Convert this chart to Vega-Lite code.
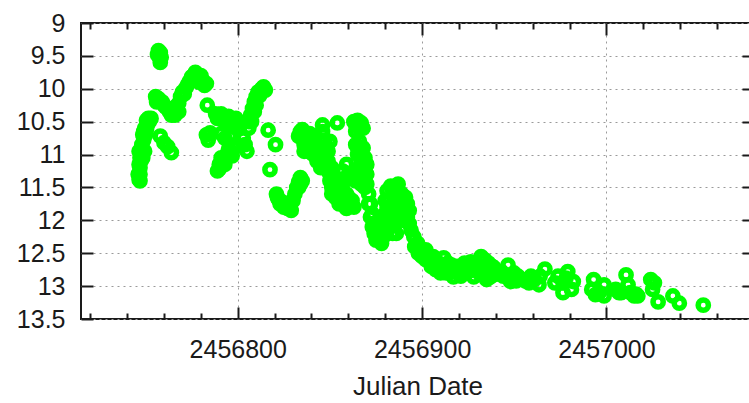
{
"$schema": "https://vega.github.io/schema/vega-lite/v6.json",
"width": 673, "height": 296,
"autosize": "none",
"padding": {"left": 81, "top": 23, "right": 0, "bottom": 84},
"background": "white",
"config": {
 "view": {"stroke": "#1a1a1a", "strokeWidth": 2},
 "axis": {"labelFont": "Liberation Sans", "titleFont": "Liberation Sans", "labelFontSize": 25, "titleFontSize": 26, "labelColor": "#1a1a1a", "titleColor": "#1a1a1a", "titleFontWeight": "normal", "gridColor": "#9a9a9a", "gridDash": [2, 4], "gridWidth": 1, "tickColor": "#1a1a1a", "tickWidth": 2, "domain": false}
},
"data": {"values": [
{"jd":2456746.5,"mag":11.38},{"jd":2456747,"mag":11.3},{"jd":2456747,"mag":11.2},{"jd":2456747.5,"mag":11.1},{"jd":2456747.5,"mag":11.0},{"jd":2456748,"mag":10.92},{"jd":2456748,"mag":10.85},{"jd":2456748.5,"mag":11.05},{"jd":2456749,"mag":10.78},{"jd":2456749.5,"mag":10.95},{"jd":2456750,"mag":10.7},{"jd":2456750.5,"mag":10.62},{"jd":2456751,"mag":10.55},{"jd":2456752,"mag":10.5},{"jd":2456753,"mag":10.45},
{"jd":2456746,"mag":11.3},{"jd":2456746.5,"mag":11.15},{"jd":2456747,"mag":11.05},{"jd":2456748.5,"mag":10.7},{"jd":2456749,"mag":10.65},{"jd":2456749.5,"mag":10.6},{"jd":2456750.5,"mag":10.48},{"jd":2456751.5,"mag":10.45},{"jd":2456746.5,"mag":10.95},{"jd":2456747,"mag":11.4},
{"jd":2456757,"mag":9.42},{"jd":2456758,"mag":9.45},{"jd":2456757.5,"mag":9.52},{"jd":2456758,"mag":9.6},{"jd":2456756.5,"mag":9.48},{"jd":2456758.5,"mag":9.52},
{"jd":2456755.5,"mag":10.12},{"jd":2456757,"mag":10.15},{"jd":2456759,"mag":10.2},{"jd":2456761,"mag":10.28},{"jd":2456763,"mag":10.35},{"jd":2456765,"mag":10.38},{"jd":2456767,"mag":10.33},
{"jd":2456756,"mag":10.2},{"jd":2456760,"mag":10.25},{"jd":2456762,"mag":10.3},{"jd":2456764,"mag":10.4},{"jd":2456766,"mag":10.4},{"jd":2456766,"mag":10.28},{"jd":2456768,"mag":10.35},
{"jd":2456758,"mag":10.72},{"jd":2456760,"mag":10.82},{"jd":2456762,"mag":10.88},{"jd":2456764,"mag":10.97},
{"jd":2456768,"mag":10.22},{"jd":2456769,"mag":10.12},{"jd":2456770,"mag":10.05},{"jd":2456771,"mag":10.08},{"jd":2456772,"mag":9.98},
{"jd":2456774,"mag":9.88},{"jd":2456776,"mag":9.8},{"jd":2456778,"mag":9.78},{"jd":2456779,"mag":9.85},{"jd":2456781,"mag":9.87},{"jd":2456783,"mag":9.92},
{"jd":2456775,"mag":9.82},{"jd":2456777,"mag":9.75},{"jd":2456780,"mag":9.8},{"jd":2456782,"mag":9.95},{"jd":2456773,"mag":9.93},{"jd":2456779,"mag":9.9},
{"jd":2456783.5,"mag":10.25},
{"jd":2456788,"mag":10.38},{"jd":2456790,"mag":10.45},{"jd":2456792,"mag":10.42},{"jd":2456794,"mag":10.5},{"jd":2456796,"mag":10.48},{"jd":2456798,"mag":10.55},{"jd":2456800,"mag":10.5},
{"jd":2456789,"mag":10.45},{"jd":2456791,"mag":10.38},{"jd":2456793,"mag":10.5},{"jd":2456795,"mag":10.42},{"jd":2456797,"mag":10.58},{"jd":2456799,"mag":10.45},{"jd":2456801,"mag":10.58},
{"jd":2456783,"mag":10.7},{"jd":2456785,"mag":10.67},{"jd":2456784,"mag":10.78},
{"jd":2456791,"mag":10.68},{"jd":2456793,"mag":10.75},{"jd":2456796,"mag":10.72},
{"jd":2456789,"mag":11.25},{"jd":2456790,"mag":11.15},{"jd":2456792,"mag":11.08},{"jd":2456794,"mag":11.0},{"jd":2456796,"mag":10.95},{"jd":2456798,"mag":10.9},
{"jd":2456790,"mag":11.22},{"jd":2456791,"mag":11.05},{"jd":2456793,"mag":11.15},{"jd":2456795,"mag":10.92},{"jd":2456797,"mag":11.02},{"jd":2456799,"mag":10.85},
{"jd":2456803,"mag":10.75},{"jd":2456804,"mag":10.85},{"jd":2456805,"mag":10.95},
{"jd":2456806,"mag":10.5},{"jd":2456807,"mag":10.4},{"jd":2456808,"mag":10.3},{"jd":2456809,"mag":10.2},{"jd":2456810,"mag":10.12},{"jd":2456811,"mag":10.05},{"jd":2456813,"mag":10.0},{"jd":2456815,"mag":10.02},
{"jd":2456806,"mag":10.6},{"jd":2456807.5,"mag":10.5},{"jd":2456809,"mag":10.35},{"jd":2456810,"mag":10.25},{"jd":2456812,"mag":10.1},{"jd":2456814,"mag":9.97},
{"jd":2456816.5,"mag":10.63},{"jd":2456820.5,"mag":10.85},{"jd":2456817.5,"mag":11.23},
{"jd":2456821,"mag":11.6},{"jd":2456822,"mag":11.68},{"jd":2456824,"mag":11.72},{"jd":2456826,"mag":11.78},{"jd":2456828,"mag":11.8},{"jd":2456829,"mag":11.72},{"jd":2456831,"mag":11.6},{"jd":2456832,"mag":11.5},{"jd":2456833,"mag":11.42},{"jd":2456834,"mag":11.35},
{"jd":2456821.5,"mag":11.65},{"jd":2456823,"mag":11.75},{"jd":2456825,"mag":11.8},{"jd":2456827,"mag":11.82},{"jd":2456829,"mag":11.85},{"jd":2456830,"mag":11.7},{"jd":2456833,"mag":11.5},{"jd":2456834,"mag":11.45},{"jd":2456835,"mag":11.4},
{"jd":2456834,"mag":10.65},{"jd":2456835,"mag":10.75},{"jd":2456836,"mag":10.85},{"jd":2456837,"mag":10.7},{"jd":2456838,"mag":10.95},{"jd":2456840,"mag":10.8},{"jd":2456841,"mag":11.0},{"jd":2456842,"mag":10.72},{"jd":2456843,"mag":11.1},{"jd":2456844,"mag":10.9},{"jd":2456845,"mag":11.2},{"jd":2456846,"mag":10.65},{"jd":2456847,"mag":10.78},{"jd":2456848,"mag":11.05},{"jd":2456849,"mag":11.25},{"jd":2456850,"mag":11.3},{"jd":2456850,"mag":10.8},
{"jd":2456833,"mag":10.72},{"jd":2456835,"mag":10.62},{"jd":2456836,"mag":10.95},{"jd":2456837,"mag":10.82},{"jd":2456839,"mag":10.9},{"jd":2456839,"mag":10.68},{"jd":2456841,"mag":10.75},{"jd":2456842,"mag":10.95},{"jd":2456843,"mag":10.85},{"jd":2456844,"mag":11.05},{"jd":2456845,"mag":10.98},{"jd":2456846,"mag":11.12},{"jd":2456847,"mag":11.2},{"jd":2456848,"mag":10.88},{"jd":2456849,"mag":10.95},{"jd":2456846,"mag":10.55},{"jd":2456851,"mag":11.2},
{"jd":2456854,"mag":10.52},
{"jd":2456849,"mag":11.1},{"jd":2456850,"mag":11.4},{"jd":2456851,"mag":11.5},{"jd":2456852,"mag":11.55},{"jd":2456853,"mag":11.35},{"jd":2456855,"mag":11.6},{"jd":2456856,"mag":11.45},{"jd":2456857,"mag":11.7},{"jd":2456858,"mag":11.75},{"jd":2456859,"mag":11.82},{"jd":2456860,"mag":11.65},{"jd":2456857,"mag":11.25},{"jd":2456859,"mag":11.15},{"jd":2456863,"mag":11.8},
{"jd":2456851,"mag":11.6},{"jd":2456852,"mag":11.4},{"jd":2456853,"mag":11.65},{"jd":2456854,"mag":11.45},{"jd":2456855,"mag":11.75},{"jd":2456856,"mag":11.62},{"jd":2456857,"mag":11.55},{"jd":2456858,"mag":11.4},{"jd":2456859,"mag":11.6},{"jd":2456861,"mag":11.78},{"jd":2456862,"mag":11.7},{"jd":2456860,"mag":11.3},
{"jd":2456863,"mag":10.5},{"jd":2456865,"mag":10.48},{"jd":2456867,"mag":10.52},{"jd":2456864,"mag":10.65},{"jd":2456866,"mag":10.8},{"jd":2456868,"mag":10.9},{"jd":2456865,"mag":11.0},{"jd":2456867,"mag":11.1},{"jd":2456869,"mag":11.2},{"jd":2456863,"mag":11.3},{"jd":2456866,"mag":11.35},{"jd":2456870,"mag":11.3},
{"jd":2456864,"mag":10.55},{"jd":2456866,"mag":10.6},{"jd":2456868,"mag":10.6},{"jd":2456864,"mag":10.85},{"jd":2456865,"mag":10.9},{"jd":2456867,"mag":10.95},{"jd":2456869,"mag":11.05},{"jd":2456866,"mag":11.2},{"jd":2456868,"mag":11.3},{"jd":2456870,"mag":11.15},{"jd":2456864,"mag":11.4},{"jd":2456867,"mag":11.45},{"jd":2456869,"mag":11.5},
{"jd":2456870,"mag":11.45},{"jd":2456871,"mag":11.6},{"jd":2456872,"mag":11.75},{"jd":2456873,"mag":11.9},{"jd":2456874,"mag":12.05},{"jd":2456875,"mag":12.15},{"jd":2456876,"mag":12.25},{"jd":2456877,"mag":12.3},{"jd":2456878,"mag":12.2},{"jd":2456879,"mag":12.05},{"jd":2456880,"mag":11.9},{"jd":2456881,"mag":11.8},{"jd":2456882,"mag":12.0},{"jd":2456883,"mag":12.1},
{"jd":2456871,"mag":11.75},{"jd":2456872,"mag":11.95},{"jd":2456873,"mag":12.1},{"jd":2456874,"mag":12.2},{"jd":2456875,"mag":12.3},{"jd":2456876,"mag":12.1},{"jd":2456877,"mag":12.15},{"jd":2456878,"mag":12.35},{"jd":2456879,"mag":12.25},{"jd":2456880,"mag":12.15},{"jd":2456881,"mag":12.05},{"jd":2456878,"mag":11.95},{"jd":2456880,"mag":11.7},{"jd":2456882,"mag":11.7},{"jd":2456883,"mag":11.85},{"jd":2456885,"mag":11.7},{"jd":2456886,"mag":11.9},{"jd":2456887,"mag":12.0},{"jd":2456888,"mag":11.65},{"jd":2456889,"mag":11.85},{"jd":2456890,"mag":12.0},{"jd":2456891,"mag":11.65},{"jd":2456892,"mag":11.75},{"jd":2456893,"mag":11.85},{"jd":2456885,"mag":12.05},{"jd":2456886,"mag":12.2},{"jd":2456887,"mag":11.45},{"jd":2456884,"mag":11.55},
{"jd":2456881,"mag":11.55},{"jd":2456883,"mag":11.48},{"jd":2456885,"mag":11.5},{"jd":2456887,"mag":11.55},{"jd":2456889,"mag":11.6},{"jd":2456886,"mag":11.7},{"jd":2456888,"mag":11.8},{"jd":2456890,"mag":11.75},{"jd":2456891,"mag":11.85},{"jd":2456892,"mag":11.95},{"jd":2456893,"mag":12.05},{"jd":2456894,"mag":12.15},{"jd":2456884,"mag":11.85},{"jd":2456882,"mag":12.1},{"jd":2456884,"mag":12.2},
{"jd":2456895.5,"mag":12.25},{"jd":2456897.6,"mag":12.35},{"jd":2456899,"mag":12.45},{"jd":2456901,"mag":12.5},{"jd":2456904.7,"mag":12.6},{"jd":2456903,"mag":12.55},{"jd":2456907.4,"mag":12.75},{"jd":2456908.5,"mag":12.72},{"jd":2456911.7,"mag":12.57},{"jd":2456914,"mag":12.65},{"jd":2456915,"mag":12.78},{"jd":2456917,"mag":12.86},{"jd":2456919,"mag":12.7},{"jd":2456922.6,"mag":12.8},{"jd":2456926.4,"mag":12.63},{"jd":2456928,"mag":12.86},{"jd":2456932,"mag":12.55},{"jd":2456933.7,"mag":12.75},{"jd":2456936,"mag":12.65},{"jd":2456937,"mag":12.86},{"jd":2456939,"mag":12.72},{"jd":2456930,"mag":12.7},{"jd":2456924,"mag":12.72},
{"jd":2456896,"mag":12.4},{"jd":2456898,"mag":12.5},{"jd":2456900,"mag":12.55},{"jd":2456902,"mag":12.6},{"jd":2456902,"mag":12.45},{"jd":2456905,"mag":12.7},{"jd":2456906,"mag":12.55},{"jd":2456909,"mag":12.65},{"jd":2456910,"mag":12.8},{"jd":2456912,"mag":12.7},{"jd":2456913,"mag":12.8},{"jd":2456916,"mag":12.68},{"jd":2456918,"mag":12.78},{"jd":2456920,"mag":12.72},{"jd":2456921,"mag":12.85},{"jd":2456923,"mag":12.65},{"jd":2456925,"mag":12.78},{"jd":2456927,"mag":12.75},{"jd":2456929,"mag":12.68},{"jd":2456931,"mag":12.8},{"jd":2456934,"mag":12.6},{"jd":2456935,"mag":12.78},{"jd":2456938,"mag":12.7},{"jd":2456940,"mag":12.82},{"jd":2456935,"mag":12.9},
{"jd":2456946.6,"mag":12.68},{"jd":2456949.8,"mag":12.8},{"jd":2456948,"mag":12.93},{"jd":2456954.7,"mag":12.9},{"jd":2456959,"mag":12.85},{"jd":2456963.4,"mag":12.98},{"jd":2456966.6,"mag":12.74},{"jd":2456943,"mag":12.78},{"jd":2456951,"mag":12.92},
{"jd":2456944,"mag":12.85},{"jd":2456947,"mag":12.88},{"jd":2456952,"mag":12.85},{"jd":2456956,"mag":12.92},{"jd":2456958,"mag":12.95},{"jd":2456961,"mag":12.9},{"jd":2456964,"mag":12.85},
{"jd":2456973.7,"mag":12.85},{"jd":2456976.4,"mag":12.95},{"jd":2456976.4,"mag":13.1},{"jd":2456979,"mag":12.78},{"jd":2456982,"mag":12.93},{"jd":2456972,"mag":12.95},{"jd":2456978,"mag":12.88},{"jd":2456981,"mag":13.05},
{"jd":2456993,"mag":12.9},{"jd":2456994,"mag":13.13},{"jd":2456998.7,"mag":12.98},{"jd":2456998.7,"mag":13.15},{"jd":2456992,"mag":13.05},{"jd":2456996,"mag":13.1},
{"jd":2457006.8,"mag":13.1},{"jd":2457010.6,"mag":12.83},{"jd":2457011.7,"mag":12.98},{"jd":2457015,"mag":13.15},{"jd":2457017,"mag":13.15},{"jd":2457005,"mag":13.05},{"jd":2457008,"mag":13.1},{"jd":2457013,"mag":13.1},{"jd":2457016,"mag":13.12},
{"jd":2457024,"mag":12.9},{"jd":2457025,"mag":13.05},{"jd":2457026,"mag":12.95},{"jd":2457028,"mag":13.24},{"jd":2457036,"mag":13.15},{"jd":2457039.5,"mag":13.26},{"jd":2457052.5,"mag":13.29}
]},
"layer": [
 {"mark": {"type": "point", "shape": "circle", "filled": false, "color": "#00ff00", "strokeWidth": 5.5, "size": 105, "opacity": 1},
  "encoding": {
   "x": {"field": "jd", "type": "quantitative", "scale": {"domain": [2456715, 2457080], "nice": false, "zero": false},
         "axis": {"orient": "bottom", "values": [2456800, 2456900, 2457000], "format": "d", "grid": true, "tickSize": -12, "labelPadding": 30, "title": "Julian Date", "titlePadding": 11, "labelFlush": false}},
   "y": {"field": "mag", "type": "quantitative", "scale": {"domain": [9, 13.5], "reverse": true, "nice": false, "zero": false},
         "axis": {"orient": "left", "values": [9, 9.5, 10, 10.5, 11, 11.5, 12, 12.5, 13, 13.5], "format": "~g", "grid": true, "tickSize": -12, "labelPadding": 28, "title": null, "labelFlush": false}}
  }},
 {"mark": {"type": "point", "opacity": 0},
  "encoding": {
   "x": {"field": "jd", "type": "quantitative", "axis": {"orient": "bottom", "values": [2456720, 2456740, 2456760, 2456780, 2456820, 2456840, 2456860, 2456880, 2456920, 2456940, 2456960, 2456980, 2457020, 2457040, 2457060], "labels": false, "grid": false, "tickSize": -6, "title": null}},
   "y": {"field": "mag", "type": "quantitative", "axis": {"orient": "right", "values": [9.5, 10, 10.5, 11, 11.5, 12, 12.5, 13], "labels": false, "grid": false, "tickSize": -12, "title": null}}
  }},
 {"mark": {"type": "point", "opacity": 0},
  "encoding": {
   "x": {"field": "jd", "type": "quantitative", "axis": {"orient": "top", "values": [2456800, 2456900, 2457000], "labels": false, "grid": false, "tickSize": -12, "title": null}},
   "y": {"field": "mag", "type": "quantitative", "axis": null}
  }},
 {"mark": {"type": "point", "opacity": 0},
  "encoding": {
   "x": {"field": "jd", "type": "quantitative", "axis": {"orient": "top", "values": [2456720, 2456740, 2456760, 2456780, 2456820, 2456840, 2456860, 2456880, 2456920, 2456940, 2456960, 2456980, 2457020, 2457040, 2457060], "labels": false, "grid": false, "tickSize": -6, "title": null}},
   "y": {"field": "mag", "type": "quantitative", "axis": null}
  }}
],
"resolve": {"axis": {"x": "independent", "y": "independent"}}
}
